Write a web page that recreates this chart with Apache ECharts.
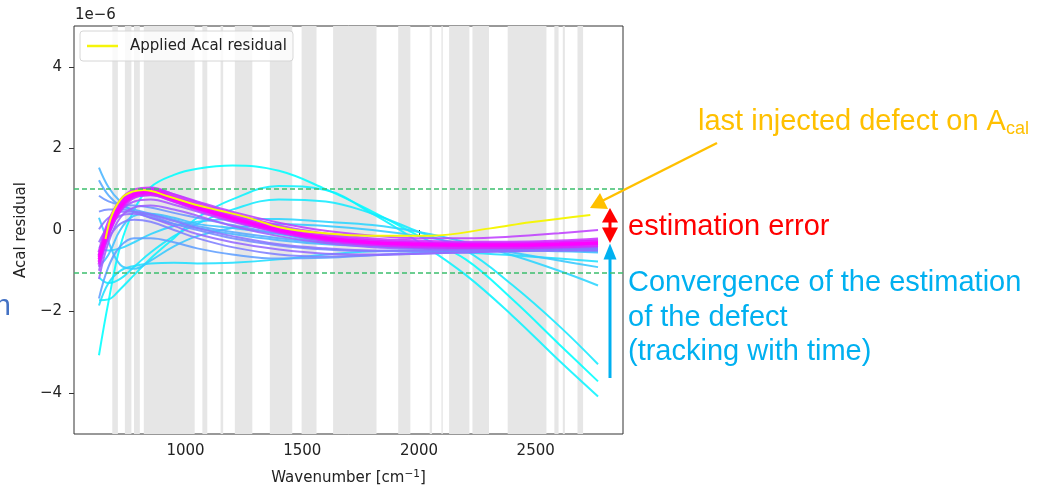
<!DOCTYPE html>
<html>
<head>
<meta charset="utf-8">
<script src="https://cdn.jsdelivr.net/npm/echarts@6/dist/echarts.min.js"></script>
<style>
  html, body { margin: 0; padding: 0; background: #ffffff; }
  #chart { width: 1038px; height: 486px; }
</style>
</head>
<body>
<div id="chart"></div>
<script>
// Wavenumber grid (cm^-1) shared by the successive residual estimates
const wavenumber = [629, 670, 720, 780, 850, 950, 1050, 1200, 1400, 1600, 1800, 2000, 2200, 2400, 2600, 2767];

// Applied Acal residual (units of 1e-6)
const appliedWavenumber = [657, 686, 729, 772, 821, 928, 1043, 1150, 1264, 1407, 1578, 1792, 2049, 2306, 2477, 2734];
const appliedResidual = [-0.22, 0.39, 0.80, 0.94, 0.98, 0.82, 0.62, 0.47, 0.31, 0.06, -0.07, -0.14, -0.14, 0.04, 0.19, 0.37];

// Successive estimates of the residual, earliest first (units of 1e-6)
const est01 = [-3.07, -1.75, -0.40, 0.50, 1.05, 1.35, 1.50, 1.58, 1.45, 1.00, 0.45, -0.15, -0.72, -1.70, -2.80, -3.71];
const est02 = [-1.72, -1.70, -1.45, -1.10, -0.70, -0.20, 0.30, 0.75, 1.08, 0.98, 0.40, -0.30, -1.10, -2.10, -3.20, -4.08];
const est03 = [-1.16, -1.30, -1.20, -0.90, -0.55, -0.15, 0.15, 0.50, 0.75, 0.70, 0.40, -0.05, -0.50, -1.35, -2.35, -3.29];
const est04 = [-1.85, -1.30, -1.00, -0.88, -0.82, -0.80, -0.82, -0.80, -0.72, -0.60, -0.52, -0.50, -0.55, -0.62, -0.70, -0.77];
const est05 = [-0.40, -0.50, -0.45, -0.30, -0.10, 0.10, 0.20, 0.27, 0.27, 0.20, 0.12, -0.05, -0.30, -0.62, -1.00, -1.36];
const est06 = [0.30, -0.30, -0.85, -0.95, -0.75, -0.40, -0.15, 0.05, 0.15, 0.10, 0.00, -0.15, -0.35, -0.55, -0.75, -0.91];
const est07 = [-0.90, -0.60, 0.00, 0.35, 0.40, 0.30, 0.15, 0.05, -0.10, -0.30, -0.40, -0.45, -0.48, -0.50, -0.52, -0.55];
const est08 = [1.53, 1.05, 0.70, 0.45, 0.30, 0.15, 0.05, -0.10, -0.25, -0.35, -0.40, -0.42, -0.45, -0.47, -0.50, -0.52];
const est09 = [1.22, 0.85, 0.60, 0.50, 0.40, 0.25, 0.10, -0.05, -0.20, -0.32, -0.38, -0.42, -0.44, -0.46, -0.48, -0.50];
const est10 = [-1.68, -0.90, -0.40, -0.20, -0.20, -0.30, -0.45, -0.60, -0.70, -0.68, -0.62, -0.56, -0.52, -0.50, -0.48, -0.46];
const est11 = [0.84, 0.70, 0.62, 0.60, 0.55, 0.42, 0.30, 0.12, -0.08, -0.22, -0.30, -0.35, -0.38, -0.40, -0.42, -0.45];
const est12 = [0.45, 0.50, 0.50, 0.45, 0.35, 0.15, 0.00, -0.20, -0.38, -0.48, -0.52, -0.52, -0.50, -0.48, -0.46, -0.45];
const est13 = [-0.67, -0.20, 0.15, 0.25, 0.20, 0.00, -0.20, -0.42, -0.60, -0.65, -0.62, -0.58, -0.55, -0.52, -0.50, -0.48];
const est14 = [0.02, 0.30, 0.45, 0.45, 0.38, 0.22, 0.05, -0.15, -0.35, -0.45, -0.50, -0.50, -0.48, -0.46, -0.44, -0.42];
const est15 = [-0.30, 0.10, 0.35, 0.40, 0.30, 0.10, -0.10, -0.30, -0.48, -0.58, -0.60, -0.58, -0.55, -0.52, -0.50, -0.50];
const est16 = [-1.20, -0.30, 0.30, 0.55, 0.60, 0.50, 0.35, 0.10, -0.15, -0.32, -0.42, -0.46, -0.48, -0.47, -0.45, -0.42];
const est17 = [-1.00, -0.15, 0.45, 0.70, 0.75, 0.62, 0.45, 0.20, -0.05, -0.25, -0.36, -0.42, -0.44, -0.44, -0.42, -0.40];
const est18 = [-0.90, 0.00, 0.55, 0.80, 0.85, 0.70, 0.52, 0.28, 0.02, -0.18, -0.30, -0.38, -0.40, -0.40, -0.38, -0.34];
const est19 = [-0.80, 0.10, 0.70, 0.95, 1.02, 0.88, 0.70, 0.45, 0.18, -0.02, -0.14, -0.20, -0.20, -0.16, -0.08, 0.00];
const est20 = [-0.55, 0.20, 0.72, 0.98, 1.03, 0.86, 0.66, 0.40, 0.10, -0.10, -0.22, -0.27, -0.30, -0.30, -0.27, -0.22];
const est21 = [-0.85, -0.10, 0.48, 0.80, 0.87, 0.70, 0.50, 0.24, -0.05, -0.26, -0.36, -0.41, -0.43, -0.43, -0.41, -0.38];
const est22 = [-0.62, 0.10, 0.65, 0.93, 0.98, 0.80, 0.60, 0.34, 0.04, -0.16, -0.27, -0.32, -0.34, -0.34, -0.31, -0.27];
const est23 = [-0.78, -0.05, 0.52, 0.84, 0.90, 0.73, 0.53, 0.27, -0.02, -0.22, -0.32, -0.37, -0.39, -0.39, -0.37, -0.34];
const est24 = [-0.66, 0.05, 0.60, 0.90, 0.95, 0.77, 0.57, 0.31, 0.01, -0.19, -0.30, -0.34, -0.36, -0.36, -0.34, -0.31];
const est25 = [-0.72, 0.00, 0.56, 0.87, 0.93, 0.76, 0.55, 0.29, 0.00, -0.20, -0.31, -0.35, -0.37, -0.37, -0.35, -0.32];

const estimates = [est01, est02, est03, est04, est05, est06, est07, est08, est09, est10, est11, est12, est13,
                   est14, est15, est16, est17, est18, est19, est20, est21, est22, est23, est24, est25];

// Excluded spectral windows (cm^-1)
const bandStart = [686, 740, 779, 821, 1072, 1150, 1211, 1361, 1497, 1632, 1911, 2046, 2096, 2129, 2229, 2380, 2580, 2616, 2679];
const bandEnd   = [710, 768, 804, 1039, 1093, 1161, 1286, 1457, 1561, 1818, 1963, 2056, 2102, 2216, 2300, 2546, 2598, 2625, 2703];

// Tolerance levels (units of 1e-6)
const toleranceLevels = [1.02, -1.05];

const xTicks = [1000, 1500, 2000, 2500];
const yTicks = [-4, -2, 0, 2, 4];

// matplotlib "cool" colormap: cyan -> magenta
function cool(t, a) {
  return 'rgba(' + Math.round(255 * t) + ',' + Math.round(255 * (1 - t)) + ',255,' + a + ')';
}
const minus = v => (v < 0 ? '\u2212' + Math.abs(v) : String(v));

const chart = echarts.init(document.getElementById('chart'), null, { renderer: 'canvas' });

const series = [];
series.push({
  type: 'line',
  data: [],
  z: 1,
  silent: true,
  markArea: {
    silent: true,
    itemStyle: { color: '#e6e6e6' },
    data: bandStart.map((s, i) => [{ xAxis: s }, { xAxis: bandEnd[i] }])
  },
  markLine: {
    silent: true,
    symbol: ['none', 'none'],
    label: { show: false },
    lineStyle: { color: '#3cbf6e', type: [5, 3], width: 1.5 },
    data: toleranceLevels.map(v => ({ yAxis: v }))
  }
});

const n = estimates.length;
estimates.forEach((vals, i) => {
  const t = i / (n - 1);
  series.push({
    type: 'line',
    data: wavenumber.map((w, k) => [w, vals[k]]),
    smooth: 0.4,
    symbol: 'none',
    z: 2,
    silent: true,
    lineStyle: { color: cool(t, 0.88), width: t > 0.75 ? 3 : 2 }
  });
});

series.push({
  name: 'Applied Acal residual',
  type: 'line',
  data: appliedWavenumber.map((w, k) => [w, appliedResidual[k]]),
  smooth: 0.4,
  symbol: 'none',
  z: 3,
  color: '#f5f50a',
  lineStyle: { color: '#f5f50a', width: 2 }
});

const annFont = '"Liberation Sans", Arial, sans-serif';
const mplFont = '"DejaVu Sans", sans-serif';
const fs = 15;

chart.setOption({
  animation: false,
  backgroundColor: '#ffffff',
  grid: {
    left: 74, right: 415, top: 26, bottom: 52,
    outerBoundsMode: 'none', containLabel: false,
    show: true, borderColor: '#333', borderWidth: 1, backgroundColor: 'transparent'
  },
  legend: {
    data: [{ name: 'Applied Acal residual', icon: 'rect' }],
    left: 80, top: 31,
    padding: [7, 6, 7, 7],
    itemWidth: 31, itemHeight: 2.5,
    backgroundColor: 'rgba(255,255,255,0.8)',
    borderColor: '#d6d6d6', borderWidth: 1, borderRadius: 3,
    textStyle: { fontFamily: mplFont, fontSize: fs, color: '#222', padding: [0, 0, 0, 7], lineHeight: 16 }
  },
  xAxis: {
    type: 'value', min: 522, max: 2874,
    name: 'Wavenumber [cm{sup|\u22121}]',
    nameLocation: 'middle', nameGap: 35,
    nameTextStyle: {
      fontFamily: mplFont, fontSize: fs, color: '#222',
      rich: { sup: { fontFamily: mplFont, fontSize: 10.5, color: '#222', padding: [0, 0, 8, 0] } }
    },
    axisLine: { show: false },
    axisTick: { show: true, length: 5, lineStyle: { color: '#333' }, customValues: xTicks },
    axisLabel: { fontFamily: mplFont, fontSize: fs, color: '#222', margin: 10, formatter: v => String(v), customValues: xTicks },
    splitLine: { show: false }
  },
  yAxis: {
    type: 'value', min: -5, max: 5,
    name: 'Acal residual',
    nameLocation: 'middle', nameGap: 35, nameRotate: 90,
    nameTextStyle: { fontFamily: mplFont, fontSize: fs, color: '#222' },
    axisLine: { show: false },
    axisTick: { show: true, length: 5, lineStyle: { color: '#333' }, customValues: yTicks },
    axisLabel: { fontFamily: mplFont, fontSize: fs, color: '#222', margin: 12, formatter: minus, customValues: yTicks },
    splitLine: { show: false }
  },
  series: series,
  graphic: [
    { type: 'text', left: 75, top: 8, style: { text: '1e\u22126', font: fs + 'px ' + mplFont, fill: '#222' } },
    // clipped word at the far left
    { type: 'text', x: 11, y: 307, style: { text: 'n', font: '29px ' + annFont, fill: '#4472c4', align: 'right', verticalAlign: 'middle' } },
    // last injected defect
    { type: 'text', x: 698, y: 122, style: {
        text: '{m|last injected defect on A}{s|cal}', verticalAlign: 'middle',
        rich: {
          m: { fontSize: 29, fontFamily: annFont, fill: '#ffc000' },
          s: { fontSize: 18, fontFamily: annFont, fill: '#ffc000', padding: [14, 0, 0, 0] }
        } } },
    { type: 'line', shape: { x1: 717, y1: 143, x2: 602, y2: 201 }, style: { stroke: '#ffc000', lineWidth: 2.5 } },
    { type: 'polygon', shape: { points: [[590, 208], [608, 209], [600, 193]] }, style: { fill: '#ffc000' } },
    // estimation error
    { type: 'polygon', shape: { points: [[610, 208], [602, 222.5], [618, 222.5]] }, style: { fill: '#ff0000' } },
    { type: 'rect', shape: { x: 608.5, y: 222, width: 3, height: 6 }, style: { fill: '#ff0000' } },
    { type: 'polygon', shape: { points: [[602, 227.5], [618, 227.5], [610, 243]] }, style: { fill: '#ff0000' } },
    { type: 'text', x: 628, y: 227, style: { text: 'estimation error', font: '29px ' + annFont, fill: '#ff0000', verticalAlign: 'middle' } },
    // convergence
    { type: 'rect', shape: { x: 608.5, y: 258, width: 3, height: 120 }, style: { fill: '#00b0f0' } },
    { type: 'polygon', shape: { points: [[610, 243.5], [603.5, 259.5], [616.5, 259.5]] }, style: { fill: '#00b0f0' } },
    { type: 'text', x: 628, y: 282.5, style: { text: 'Convergence of the estimation', font: '29px ' + annFont, fill: '#00b0f0', verticalAlign: 'middle' } },
    { type: 'text', x: 628, y: 318, style: { text: 'of the defect', font: '29px ' + annFont, fill: '#00b0f0', verticalAlign: 'middle' } },
    { type: 'text', x: 628, y: 352, style: { text: '(tracking with time)', font: '29px ' + annFont, fill: '#00b0f0', verticalAlign: 'middle' } }
  ]
});
</script>
</body>
</html>
